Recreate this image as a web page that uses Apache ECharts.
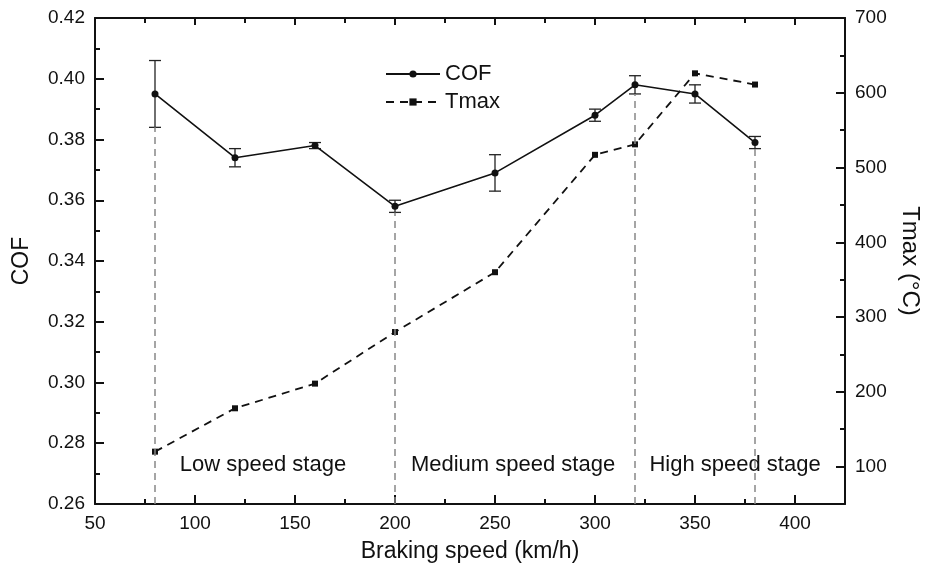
<!DOCTYPE html>
<html>
<head>
<meta charset="utf-8">
<script src="https://cdn.jsdelivr.net/npm/echarts@6/dist/echarts.min.js"></script>
<style>
  html, body { margin: 0; padding: 0; background: #fff; }
  #chart { width: 934px; height: 566px; }
</style>
</head>
<body>
<div id="chart"></div>
<script>
// values
var speed = [80, 120, 160, 200, 250, 300, 320, 350, 380];
var cof = [0.395, 0.374, 0.378, 0.358, 0.369, 0.388, 0.398, 0.395, 0.379];
var cofErr = [0.011, 0.003, 0.001, 0.002, 0.006, 0.002, 0.003, 0.003, 0.002];
var tmax = [120, 178, 211, 280, 360, 517, 531, 626, 611];

// stage boundaries (dashed grey guides) and stage names
var guideSpeed = [80, 200, 320, 380];
var stageNames = ['Low speed stage', 'Medium speed stage', 'High speed stage'];
var stageX = [134, 259, 370];
var stageY = 0.2728;

var xMajor = [50, 100, 150, 200, 250, 300, 350, 400];
var xMinor = [75, 125, 175, 225, 275, 325, 375];
var tMajor = [100, 200, 300, 400, 500, 600, 700];
var tMinor = [150, 250, 350, 450, 550, 650];

var font = 'Arial, "Liberation Sans", sans-serif';
var ink = '#111';

var cofData = speed.map(function (s, i) { return [s, cof[i]]; });
var tmaxData = speed.map(function (s, i) { return [s, tmax[i]]; });
var errData = speed.map(function (s, i) { return [s, cof[i] - cofErr[i], cof[i] + cofErr[i]]; });
var guideLines = guideSpeed.map(function (s) {
  var i = speed.indexOf(s);
  return [{ coord: [s, 0.26] }, { coord: [s, cof[i] - cofErr[i]] }];
});
var stageData = stageX.map(function (x, i) { return [x, stageY, i]; });

function axisLine() { return { show: true, onZero: false, lineStyle: { color: ink, width: 2 } }; }

var myChart = echarts.init(document.getElementById('chart'));
var option = {
  animation: false,
  textStyle: { fontFamily: font },
  grid: { left: 95, right: 89, top: 18, bottom: 62, containLabel: false, outerBoundsMode: 'none' },
  legend: {
    orient: 'vertical',
    left: 380,
    top: 58,
    itemWidth: 54,
    itemHeight: 9,
    itemGap: 6,
    textStyle: { fontSize: 22, color: ink, fontFamily: font },
    data: ['COF', 'Tmax']
  },
  xAxis: [
    {
      type: 'value', position: 'bottom', min: 50, max: 425,
      axisLine: axisLine(),
      axisTick: { inside: true, length: 9, lineStyle: { color: ink, width: 2 }, customValues: xMajor },
      axisLabel: { fontSize: 19, color: ink, margin: 10, customValues: xMajor },
      splitLine: { show: false },
      name: 'Braking speed (km/h)', nameLocation: 'middle', nameGap: 36,
      nameTextStyle: { fontSize: 23, color: ink }
    },
    {
      type: 'value', position: 'bottom', min: 50, max: 425,
      axisLine: { show: false },
      axisTick: { inside: true, length: 5, lineStyle: { color: ink, width: 2 }, customValues: xMinor },
      axisLabel: { show: false },
      splitLine: { show: false }
    },
    {
      type: 'value', position: 'top', min: 50, max: 425,
      axisLine: axisLine(),
      axisTick: { inside: true, length: 7, lineStyle: { color: ink, width: 2 }, customValues: xMajor },
      axisLabel: { show: false },
      splitLine: { show: false }
    },
    {
      type: 'value', position: 'top', min: 50, max: 425,
      axisLine: { show: false },
      axisTick: { inside: true, length: 5, lineStyle: { color: ink, width: 2 }, customValues: xMinor },
      axisLabel: { show: false },
      splitLine: { show: false }
    }
  ],
  yAxis: [
    {
      type: 'value', position: 'left', min: 0.26, max: 0.42, interval: 0.02,
      axisLine: axisLine(),
      axisTick: { inside: true, length: 9, lineStyle: { color: ink, width: 2 } },
      minorTick: { show: true, splitNumber: 2, length: 5, lineStyle: { color: ink, width: 2 } },
      axisLabel: { fontSize: 19, color: ink, margin: 10, formatter: function (v) { return v.toFixed(2); } },
      splitLine: { show: false },
      name: 'COF', nameLocation: 'middle', nameGap: 62, nameRotate: 90,
      nameTextStyle: { fontSize: 23, color: ink }
    },
    {
      type: 'value', position: 'right', min: 50, max: 700,
      axisLine: axisLine(),
      axisTick: { inside: true, length: 9, lineStyle: { color: ink, width: 2 }, customValues: tMajor },
      axisLabel: { fontSize: 19, color: ink, margin: 10, customValues: tMajor },
      splitLine: { show: false },
      name: 'Tmax (°C)', nameLocation: 'middle', nameGap: 50, nameRotate: -90,
      nameTextStyle: { fontSize: 24, color: ink }
    },
    {
      type: 'value', position: 'right', min: 50, max: 700,
      axisLine: { show: false },
      axisTick: { inside: true, length: 5, lineStyle: { color: ink, width: 2 }, customValues: tMinor },
      axisLabel: { show: false },
      splitLine: { show: false }
    }
  ],
  series: [
    {
      name: 'guides', type: 'line', data: [], xAxisIndex: 0, yAxisIndex: 0,
      markLine: {
        silent: true, symbol: 'none', label: { show: false },
        lineStyle: { color: '#888', type: [7, 5], width: 1.5 },
        data: guideLines
      }
    },
    {
      name: 'errorbar', type: 'custom', xAxisIndex: 0, yAxisIndex: 0,
      data: errData,
      encode: { x: 0, y: [1, 2] },
      renderItem: function (params, api) {
        var lo = api.coord([api.value(0), api.value(1)]);
        var hi = api.coord([api.value(0), api.value(2)]);
        var w = 6;
        var st = { stroke: '#222', lineWidth: 1.3 };
        return {
          type: 'group',
          children: [
            { type: 'line', shape: { x1: hi[0], y1: hi[1], x2: lo[0], y2: lo[1] }, style: st },
            { type: 'line', shape: { x1: hi[0] - w, y1: hi[1], x2: hi[0] + w, y2: hi[1] }, style: st },
            { type: 'line', shape: { x1: lo[0] - w, y1: lo[1], x2: lo[0] + w, y2: lo[1] }, style: st }
          ]
        };
      },
      z: 3
    },
    {
      name: 'COF', type: 'line', xAxisIndex: 0, yAxisIndex: 0,
      data: cofData,
      symbol: 'circle', symbolSize: 7,
      itemStyle: { color: ink },
      lineStyle: { color: ink, width: 1.6 },
      z: 4
    },
    {
      name: 'Tmax', type: 'line', xAxisIndex: 0, yAxisIndex: 1,
      data: tmaxData,
      symbol: 'rect', symbolSize: 6,
      itemStyle: { color: ink },
      lineStyle: { color: ink, width: 1.8, type: [8, 6] },
      z: 4
    },
    {
      name: 'stages', type: 'custom', xAxisIndex: 0, yAxisIndex: 0,
      data: stageData,
      renderItem: function (params, api) {
        var p = api.coord([api.value(0), api.value(1)]);
        return {
          type: 'text',
          x: p[0], y: p[1],
          style: {
            text: stageNames[api.value(2)],
            fontSize: 22, fontFamily: font, fill: ink,
            align: 'center', verticalAlign: 'middle'
          }
        };
      },
      silent: true
    }
  ]
};
myChart.setOption(option);
</script>
</body>
</html>
